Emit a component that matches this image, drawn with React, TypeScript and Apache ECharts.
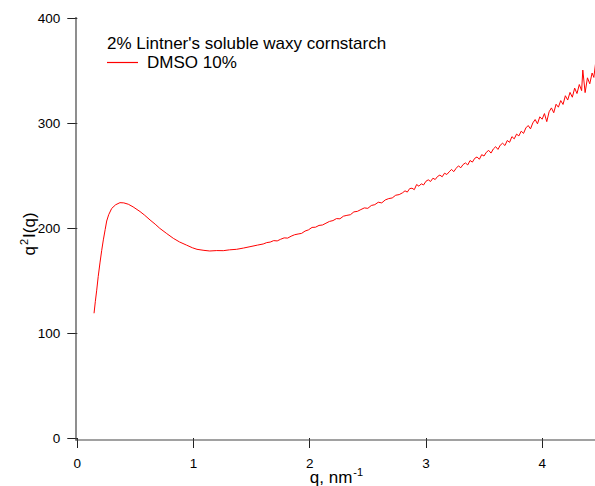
import React, { useEffect, useRef } from "react";
import * as echarts from "echarts";

const qValues: number[] = [
  0.144, 0.155, 0.167, 0.18, 0.195, 0.21, 0.224, 0.24, 0.253, 0.27, 0.296, 0.33, 0.367, 0.40, 0.439,
  0.48, 0.54, 0.58, 0.626, 0.67, 0.71, 0.77, 0.826, 0.88, 0.94, 0.99, 1.03, 1.09, 1.14, 1.2,
  1.256, 1.31, 1.37, 1.43, 1.486, 1.55,
  1.6, 1.63, 1.66, 1.69, 1.72, 1.75, 1.78, 1.81, 1.84, 1.87, 1.9, 1.93, 1.96, 1.99,
  2.02, 2.05, 2.08, 2.11, 2.14, 2.17, 2.2, 2.23, 2.26, 2.29, 2.32, 2.35, 2.38, 2.41,
  2.44, 2.47, 2.5, 2.53, 2.56, 2.59, 2.62, 2.65, 2.68, 2.71, 2.74, 2.77,
  2.8, 2.82, 2.84, 2.86, 2.88, 2.9, 2.92, 2.94, 2.96, 2.98, 3.0, 3.02, 3.04, 3.06, 3.08,
  3.1, 3.12, 3.14, 3.16, 3.18, 3.2, 3.22, 3.24, 3.26, 3.28, 3.3, 3.32, 3.34, 3.36, 3.38,
  3.4, 3.42, 3.44, 3.46, 3.48, 3.5, 3.52, 3.54, 3.56, 3.58, 3.6, 3.62, 3.64, 3.66, 3.68,
  3.7, 3.72, 3.74, 3.76, 3.78, 3.8, 3.82, 3.84, 3.86, 3.88, 3.9, 3.92, 3.94, 3.96, 3.98,
  4.0, 4.02, 4.04, 4.06, 4.08, 4.1, 4.12, 4.14, 4.16, 4.18, 4.2, 4.22, 4.24, 4.26, 4.28,
  4.3, 4.32, 4.34, 4.35, 4.37, 4.39, 4.41, 4.43, 4.445, 4.46,
];

const intensity: number[] = [
  119, 130, 141, 154, 167, 179, 189, 199, 207, 213, 219, 222.5, 224.5, 224.3, 223,
  220.5, 216, 212.5, 208, 204, 200, 195, 190.5, 187, 184, 181.5, 180, 179, 178.4, 178.8,
  178.7, 179.5, 180, 181.2, 182.5, 184,
  185.1, 186.4, 186.9, 188.3, 188.0, 189.6, 190.9, 190.7, 192.5, 193.9, 194.6, 195.2, 197.4, 198.6,
  200.9, 201.1, 202.8, 203.2, 204.9, 206.6, 207.4, 209.3, 209.1, 211.6, 212.4, 213.0, 215.7, 216.2,
  217.9, 219.5, 219.1, 221.8, 222.6, 224.9, 224.3, 227.1, 228.4, 229.0, 231.6, 232.2,
  234.0, 235.8, 234.6, 237.9, 238.3, 236.9, 241.8, 240.2, 242.5, 241.4, 244.9, 246.3, 244.7, 247.8, 246.6,
  249.5, 250.8, 249.2, 252.6, 251.4, 253.9, 256.2, 254.1, 257.3, 259.6, 257.8, 260.9, 262.4, 260.5, 264.7,
  263.2, 266.8, 268.1, 265.9, 270.3, 269.0, 272.6, 274.4, 271.8, 275.7, 277.9, 275.3, 279.4, 281.2, 279.0,
  283.8, 282.1, 287.5, 285.4, 289.9, 288.2, 292.7, 290.6, 295.8, 298.1, 294.9, 300.6, 303.8, 299.7, 306.4,
  304.1, 309.5, 301.8, 311.2, 314.9, 310.3, 318.4, 315.6, 321.9, 318.2, 326.5, 322.4, 329.7, 325.1, 333.8,
  328.6, 337.2, 331.4, 351.0, 329.5, 343.6, 337.9, 348.2, 344.0, 357.5,
];

const xTicks = [0, 1, 2, 3, 4];
const yTicks = [0, 100, 200, 300, 400];
const titleText = "2% Lintner's soluble waxy cornstarch";
const seriesName = "DMSO 10%";
const xName = "{b|q, nm}{s|-1}";
const yName = "{b|q}{s|2}{b|I(q)}";

const FONT = "'Liberation Sans', Arial, Helvetica, sans-serif";

const nameRich = {
  b: { fontFamily: FONT, fontSize: 17, fill: "#000", color: "#000", verticalAlign: "bottom", lineHeight: 20 },
  s: { fontFamily: FONT, fontSize: 11, fill: "#000", color: "#000", verticalAlign: "top", lineHeight: 20, padding: [0, 1, 12, 1] },
};

export default function App() {
  const ref = useRef<HTMLDivElement>(null);
  useEffect(() => {
    if (!ref.current) return;
    const chart = echarts.init(ref.current, undefined, { renderer: "svg" });
    const data = qValues.map((q, i) => [q, intensity[i]]);
    chart.setOption({
      animation: false,
      backgroundColor: "#ffffff",
      textStyle: { fontFamily: FONT },
      title: {
        text: titleText,
        left: 102,
        top: 30,
        textStyle: { fontFamily: FONT, fontSize: 17, fontWeight: "normal", color: "#000" },
      },
      legend: {
        data: [{ name: seriesName, icon: "rect" }],
        left: 102,
        top: 49,
        itemWidth: 31,
        itemHeight: 1.2,
        textStyle: { fontFamily: FONT, fontSize: 17, color: "#000", padding: [0, 0, 0, 4] },
      },
      grid: { left: 77.3, right: 0, top: 18.7, bottom: 48, containLabel: false, outerBoundsMode: "none" },
      xAxis: {
        type: "value",
        min: xTicks[0],
        max: 4.455,
        interval: 1,
        offset: 2,
        axisLine: { show: false },
        axisTick: { show: true, length: 10, lineStyle: { color: "#222", width: 1 } },
        axisLabel: {
          margin: 16,
          fontFamily: FONT,
          fontSize: 13.5,
          color: "#000",
          formatter: (v: number) => (xTicks.includes(v) ? String(v) : ""),
        },
        splitLine: { show: false },
      },
      yAxis: {
        type: "value",
        min: yTicks[0],
        max: yTicks[yTicks.length - 1],
        interval: 100,
        offset: 1,
        axisLine: { show: false },
        axisTick: { show: true, length: 10, lineStyle: { color: "#222", width: 1 } },
        axisLabel: { margin: 16, fontFamily: FONT, fontSize: 13.5, color: "#000" },
        splitLine: { show: false },
      },
      graphic: [
        { type: "line", shape: { x1: 76, y1: 17, x2: 76, y2: 440.5 }, style: { stroke: "#444", lineWidth: 1.2 }, z: 10 },
        { type: "line", shape: { x1: 75.5, y1: 440, x2: 595, y2: 440 }, style: { stroke: "#444", lineWidth: 1.2 }, z: 10 },
        {
          type: "text",
          x: 337,
          y: 466,
          style: { text: xName, rich: nameRich, align: "center", verticalAlign: "top", fill: "#000" },
          z: 10,
        },
        {
          type: "text",
          x: 28,
          y: 234,
          rotation: Math.PI / 2,
          style: { text: yName, rich: nameRich, align: "center", verticalAlign: "middle", fill: "#000" },
          z: 10,
        },
      ],
      series: [
        {
          name: seriesName,
          type: "line",
          data,
          showSymbol: false,
          symbol: "none",
          lineStyle: { color: "#ff0000", width: 1 },
          itemStyle: { color: "#ff0000" },
        },
      ],
    });
    return () => chart.dispose();
  }, []);
  return <div ref={ref} style={{ width: 595, height: 486, position: "absolute", left: 0, top: 0 }} />;
}
